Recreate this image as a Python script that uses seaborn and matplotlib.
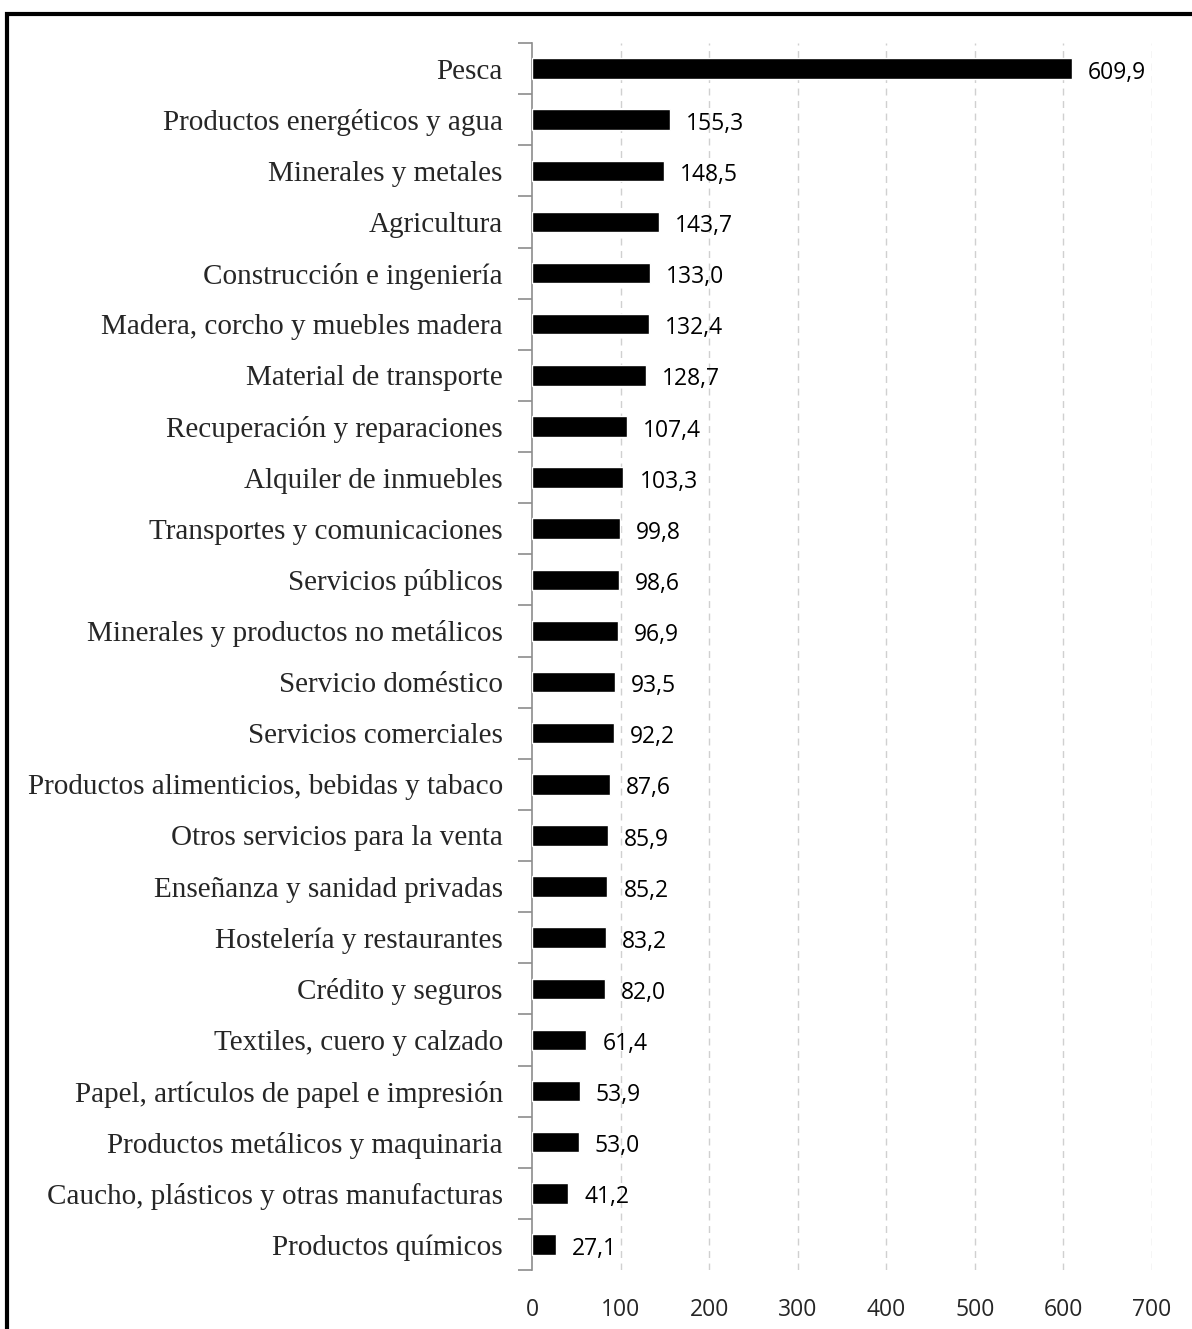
import matplotlib.pyplot as plt
import matplotlib.patches as mpatches
from matplotlib.ticker import FixedLocator
import pandas as pd
import seaborn as sns
import numpy as np

# Data (top to bottom)
sectors = [
    "Pesca",
    "Productos energéticos y agua",
    "Minerales y metales",
    "Agricultura",
    "Construcción e ingeniería",
    "Madera, corcho y muebles madera",
    "Material de transporte",
    "Recuperación y reparaciones",
    "Alquiler de inmuebles",
    "Transportes y comunicaciones",
    "Servicios públicos",
    "Minerales y productos no metálicos",
    "Servicio doméstico",
    "Servicios comerciales",
    "Productos alimenticios, bebidas y tabaco",
    "Otros servicios para la venta",
    "Enseñanza y sanidad privadas",
    "Hostelería y restaurantes",
    "Crédito y seguros",
    "Textiles, cuero y calzado",
    "Papel, artículos de papel e impresión",
    "Productos metálicos y maquinaria",
    "Caucho, plásticos y otras manufacturas",
    "Productos químicos",
]
values = [609.9, 155.3, 148.5, 143.7, 133.0, 132.4, 128.7, 107.4, 103.3, 99.8,
          98.6, 96.9, 93.5, 92.2, 87.6, 85.9, 85.2, 83.2, 82.0, 61.4,
          53.9, 53.0, 41.2, 27.1]
x_ticks = [0, 100, 200, 300, 400, 500, 600, 700]

df = pd.DataFrame({"sector": sectors, "value": values})

sns.set_style("white")
fig = plt.figure(figsize=(11.92, 13.29), dpi=100)
ax = fig.add_axes([532 / 1192, 1 - 1270 / 1329, 620 / 1192, 1227 / 1329])

sns.barplot(data=df, x="value", y="sector", color="black", width=0.4,
            saturation=1, ax=ax, zorder=3)

ax.set_xlim(0, 700)
ax.set_ylim(len(sectors) - 0.5, -0.5)
ax.set_xlabel("")
ax.set_ylabel("")

# dashed vertical gridlines
for t in x_ticks[1:]:
    ax.axvline(t, color="#d0d0d0", linestyle=(0, (5, 4)), linewidth=1, zorder=1)

ax.set_xticks(x_ticks)
ax.set_xticklabels([str(t) for t in x_ticks], family="Open Sans", fontsize=16.5)
ax.tick_params(axis="x", length=0, pad=20)

for s in ["top", "right", "bottom"]:
    ax.spines[s].set_visible(False)
ax.spines["left"].set_color("#8c8c8c")
ax.spines["left"].set_linewidth(1.2)

ax.set_yticks(range(len(sectors)))
ax.set_yticklabels(sectors, family="Liberation Serif", fontsize=21)
ax.tick_params(axis="y", which="major", left=False, length=0, pad=21)
ax.yaxis.set_minor_locator(FixedLocator(np.arange(-0.5, len(sectors), 1)))
ax.tick_params(axis="y", which="minor", left=True, length=10,
               color="#8c8c8c", width=1.2)

# value labels
for i, v in enumerate(values):
    ax.text(v + 18, i + 0.08, f"{v:.1f}".replace(".", ","), va="center",
            ha="left", family="Open Sans", fontsize=16.5, color="black")

# outer frame (top and left edges visible)
frame = mpatches.Rectangle((7 / 1192, -0.05), 1.1, 1 - 14 / 1329 + 0.05,
                           transform=fig.transFigure, fill=False,
                           edgecolor="black", linewidth=3, clip_on=False)
fig.patches.append(frame)

fig.savefig("out.png", dpi=100)
